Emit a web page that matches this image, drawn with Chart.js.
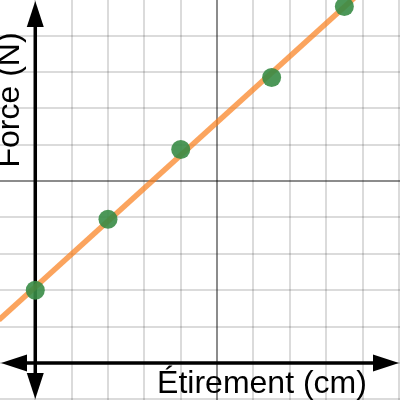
<!DOCTYPE html>
<html>
<head>
<meta charset="utf-8">
<script src="https://cdn.jsdelivr.net/npm/chart.js@4/dist/chart.umd.min.js"></script>
<style>
  html, body { margin: 0; padding: 0; background: #fff; }
  canvas { display: block; }
</style>
</head>
<body>
<canvas id="c" width="400" height="400"></canvas>
<script>
// ---- data ----
const stretchCm = [0, 2, 4, 6.5, 8.5];
const forceN = [2, 3.95, 5.87, 7.85, 9.8];
// trend line end points (clipped by the plot area)
const fitX = [-1, 10];
const fitY = [1.18, 11.15];
// grid values
const xGrid = [0, 1, 2, 3, 4, 5, 6, 7, 8, 9, 10];
const yGrid = [-1, 0, 1, 2, 3, 4, 5, 6, 7, 8, 9];
const majorGrid = 5;
const xTitle = 'Étirement (cm)';
const yTitle = 'Force (N)';

const FONT = '32px "Liberation Sans", Arial, sans-serif';

const axesPlugin = {
  id: 'axesPlugin',
  beforeDatasetsDraw(chart) {
    const ctx = chart.ctx;
    const xs = chart.scales.x, ys = chart.scales.y;
    const x0 = xs.getPixelForValue(0);
    const y0 = ys.getPixelForValue(0);
    const W = chart.width, H = chart.height;
    ctx.save();
    ctx.strokeStyle = '#000';
    ctx.fillStyle = '#000';
    ctx.lineWidth = 3.5;
    // x axis
    ctx.beginPath();
    ctx.moveTo(20, y0);
    ctx.lineTo(W - 20, y0);
    ctx.stroke();
    // y axis
    ctx.beginPath();
    ctx.moveTo(x0, 20);
    ctx.lineTo(x0, H - 20);
    ctx.stroke();
    const L = 26, hw = 8.5;
    // left arrow
    ctx.beginPath();
    ctx.moveTo(1, y0); ctx.lineTo(1 + L, y0 - hw); ctx.lineTo(1 + L, y0 + hw); ctx.closePath(); ctx.fill();
    // right arrow
    ctx.beginPath();
    ctx.moveTo(W - 1, y0); ctx.lineTo(W - 1 - L, y0 - hw); ctx.lineTo(W - 1 - L, y0 + hw); ctx.closePath(); ctx.fill();
    // top arrow
    ctx.beginPath();
    ctx.moveTo(x0, 1); ctx.lineTo(x0 - hw, 1 + L); ctx.lineTo(x0 + hw, 1 + L); ctx.closePath(); ctx.fill();
    // bottom arrow
    ctx.beginPath();
    ctx.moveTo(x0, H - 1); ctx.lineTo(x0 - hw, H - 1 - L); ctx.lineTo(x0 + hw, H - 1 - L); ctx.closePath(); ctx.fill();

    // titles
    ctx.font = FONT;
    ctx.textBaseline = 'alphabetic';
    ctx.textAlign = 'center';
    ctx.fillText(xTitle, 262, 393);
    ctx.translate(19, 100);
    ctx.rotate(-Math.PI / 2);
    ctx.fillText(yTitle, 0, 0);
    ctx.restore();
  }
};

function gridColor(c) {
  return c.tick && c.tick.value === majorGrid ? 'rgba(0,0,0,0.45)' : 'rgba(0,0,0,0.14)';
}

new Chart(document.getElementById('c'), {
  type: 'scatter',
  data: {
    datasets: [
      {
        label: 'points',
        data: stretchCm.map((x, i) => ({ x: x, y: forceN[i] })),
        backgroundColor: 'rgba(56,140,70,0.9)',
        borderWidth: 0,
        pointRadius: 9.5,
        order: 0
      },
      {
        label: 'fit',
        type: 'line',
        data: fitX.map((x, i) => ({ x: x, y: fitY[i] })),
        borderColor: 'rgba(250,126,25,0.7)',
        borderWidth: 5.5,
        pointRadius: 0,
        fill: false,
        order: 1
      }
    ]
  },
  options: {
    responsive: false,
    animation: false,
    devicePixelRatio: 1,
    layout: { padding: 0, autoPadding: false },
    plugins: { legend: { display: false }, tooltip: { enabled: false } },
    scales: {
      x: {
        type: 'linear',
        min: -0.97, max: 10.03,
        afterBuildTicks: s => { s.ticks = xGrid.map(v => ({ value: v })); },
        ticks: { display: false },
        border: { display: false },
        grid: { drawTicks: false, color: gridColor, lineWidth: 2 }
      },
      y: {
        type: 'linear',
        min: -1.02, max: 9.98,
        afterBuildTicks: s => { s.ticks = yGrid.map(v => ({ value: v })); },
        ticks: { display: false },
        border: { display: false },
        grid: { drawTicks: false, color: gridColor, lineWidth: 2 }
      }
    }
  },
  plugins: [axesPlugin]
});
</script>
</body>
</html>
